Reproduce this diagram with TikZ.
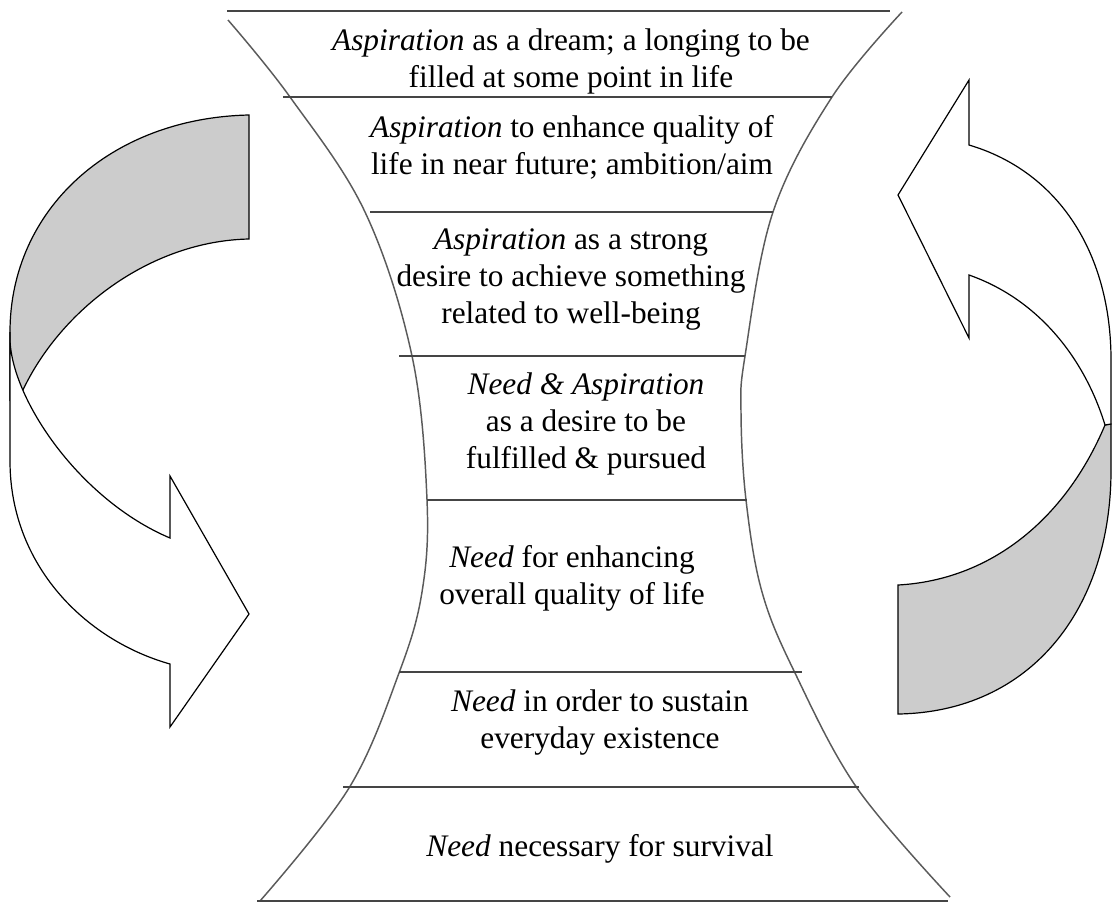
\documentclass[tikz,border=0pt]{standalone}
\usepackage{fontspec}
\setmainfont{Liberation Serif}
\definecolor{ribbongray}{HTML}{CCCCCC}
\definecolor{rimgray}{HTML}{5A5A5A}
\definecolor{bargray}{HTML}{454545}
\tikzset{
  tier/.style={align=center, font=\fontsize{23.5}{27.75}\selectfont, inner sep=0pt},
  bar/.style={draw=bargray, line width=1.5pt},
  rim/.style={draw=rimgray, line width=1.1pt},
  ribbon/.style={draw=black, line width=0.9pt, line join=miter},
}
\begin{document}
\begin{tikzpicture}[x=0.75pt, y=-0.75pt]
    \useasboundingbox (0,0) rectangle (1112,903);

    % Left ribbon arrow (grey back first, white front on top)
    \filldraw[ribbon, fill=ribbongray] (249,115) .. controls (110,118) and (10,210) .. (10,332)
        -- (10,400) -- (22,392) .. controls (60,310) and (150,241) .. (249,239) -- cycle;
    \filldraw[ribbon, fill=white] (10,332) -- (10,461) .. controls (10,565) and (85,640) .. (170,664)
        -- (170,727) -- (249,614) -- (170,476) -- (170,538)
        .. controls (80,500) and (12,400) .. (10,340) -- cycle;

    % Right ribbon arrow
    \filldraw[ribbon, fill=ribbongray] (1105,425) .. controls (1065,520) and (990,580) .. (898,585)
        -- (898,714) .. controls (1030,712) and (1111,610) .. (1111,470) -- (1111,424) -- cycle;
    \filldraw[ribbon, fill=white] (969,145) .. controls (1060,172) and (1111,255) .. (1111,360)
        -- (1111,424) -- (1105,425) .. controls (1085,360) and (1040,300) .. (969,275)
        -- (969,338) -- (898,195) -- (969,80) -- cycle;

    % Hourglass sides
    \draw[rim] plot[smooth, tension=0.6] coordinates {(228,20) (290,97) (365,212) (412,356)
        (427,500) (422,592) (399,673) (349,788) (260,901)};
    \draw[rim] plot[smooth, tension=0.6] coordinates {(902,12) (832,97) (773,212) (745,356)
        (741,413) (746,500) (762,592) (795,673) (857,788) (950,897)};

    % Dividers
    \draw[bar] (227,11) -- (890,11);
    \draw[bar] (283,97) -- (832,97);
    \draw[bar] (370,212) -- (773,212);
    \draw[bar] (399,356) -- (745,356);
    \draw[bar] (427,500) -- (747,500);
    \draw[bar] (399,672) -- (802,672);
    \draw[bar] (343,787) -- (859,787);
    \draw[bar] (257,901) -- (948,901);

    % Tier texts
    \node[tier] (dream) at (571,61) {\textit{Aspiration} as a dream; a longing to be\\filled at some point in life};
    \node[tier] (ambition) at (572,147) {\textit{Aspiration} to enhance quality of\\life in near future; ambition/aim};
    \node[tier] (desire) at (571,280) {\textit{Aspiration} as a strong\\desire to achieve something\\related to well-being};
    \node[tier] (pursue) at (586,424) {\textit{Need \& Aspiration}\\as a desire to be\\fulfilled \& pursued};
    \node[tier] (enhance) at (572,578) {\textit{Need} for enhancing\\overall quality of life};
    \node[tier] (sustain) at (600,722) {\textit{Need} in order to sustain\\everyday existence};
    \node[tier] (survive) at (600,849) {\textit{Need} necessary for survival};
\end{tikzpicture}
\end{document}
